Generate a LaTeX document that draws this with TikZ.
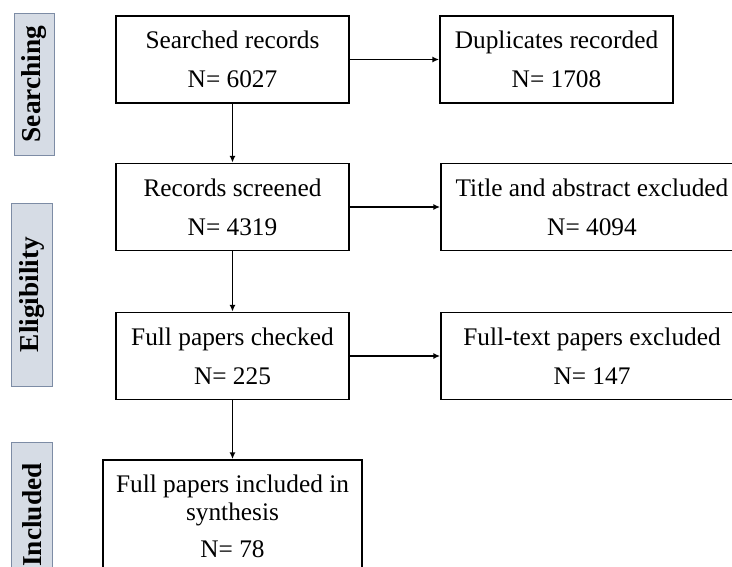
\documentclass[tikz,border=0pt]{standalone}
\usepackage{fontspec}
\setmainfont{Liberation Serif}
\usetikzlibrary{arrows.meta}
\definecolor{stagefill}{RGB}{214,220,229}
\definecolor{stageline}{RGB}{125,140,165}

\begin{document}
\begin{tikzpicture}[x=0.75pt,y=-0.75pt,
		box/.style={draw=black,line width=1.4pt,align=center,inner sep=0pt,
			minimum height=65.25pt,font=\fontsize{19}{21}\selectfont},
		stage/.style={draw=stageline,fill=stagefill,line width=0.7pt,rotate=90,
			minimum height=30.5pt,inner sep=0pt,font=\fontsize{20.5}{22}\selectfont\bfseries},
		flow/.style={->,line width=1.2pt,>={Latex[length=5pt,width=4.5pt]}}]
			\useasboundingbox (0,0) rectangle (732,567);
			\clip (0,0) rectangle (732,567);
			
			% stages on the left
			\node[stage,minimum width=106.5pt] (searching) at (34.5,84) {Searching};
			\node[stage,minimum width=137.25pt] (eligibility) at (32,294.5) {Eligibility};
			\node[stage,minimum width=109.5pt] (included) at (32,515) {Included};
			
			% main column
			\node[box,minimum width=174.75pt] (searched) at (232.5,59.5) {Searched records\\[8pt]N= 6027};
			\node[box,minimum width=174.75pt] (screened) at (232.5,207) {Records screened\\[8pt]N= 4319};
			\node[box,minimum width=174.75pt] (checked) at (232.5,356) {Full papers checked\\[8pt]N= 225};
			\node[box,minimum width=194.25pt,minimum height=84pt] (synthesis) at (232.5,516) {Full papers included in\\synthesis\\[7pt]N= 78};
			
			% removed records
			\node[box,minimum width=174.75pt] (duplicates) at (556.5,59.5) {Duplicates recorded\\[8pt]N= 1708};
			\node[box,minimum width=226.5pt] (abstract) at (592,207) {Title and abstract excluded\\[8pt]N= 4094};
			\node[box,minimum width=226.5pt] (fulltext) at (592,356) {Full-text papers excluded\\[8pt]N= 147};
			
			\draw[flow] (searched) -- (duplicates);
			\draw[flow] (searched) -- (screened);
			\draw[flow] (screened) -- (abstract);
			\draw[flow] (screened) -- (checked);
			\draw[flow] (checked) -- (fulltext);
			\draw[flow] (checked) -- (synthesis);
		\end{tikzpicture}
\end{document}
